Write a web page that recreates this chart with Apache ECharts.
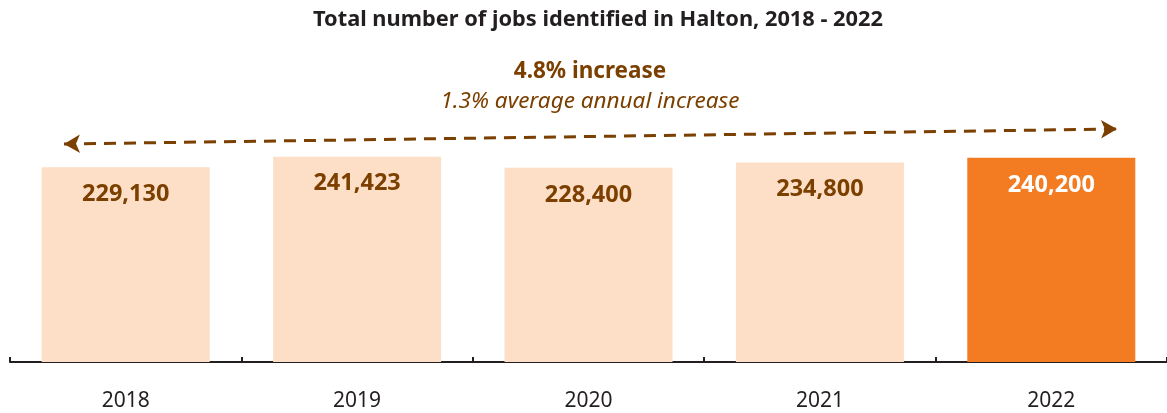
<!DOCTYPE html>
<html>
<head>
<meta charset="utf-8">
<style>
  html, body { margin: 0; padding: 0; background: #ffffff; }
  #chart { width: 1167px; height: 413px; }
</style>
<script src="https://cdn.jsdelivr.net/npm/echarts@6/dist/echarts.min.js"></script>
</head>
<body>
<div id="chart"></div>
<script>
// Jobs in Halton by year
const years = ['2018', '2019', '2020', '2021', '2022'];
const jobs = [229130, 241423, 228400, 234800, 240200];
const highlightYear = '2022';

const chartTitle = 'Total number of jobs identified in Halton, 2018 - 2022';
const growthTotal = '4.8% increase';
const growthAnnual = '1.3% average annual increase';

const FONT = '"Noto Sans", "Open Sans", sans-serif';
const BROWN = '#7b3f00';
const LIGHT = '#fcdfc6';
const ORANGE = '#f37b22';

const chart = echarts.init(document.getElementById('chart'), null, { renderer: 'canvas' });

const barData = years.map((y, i) => ({
  value: jobs[i],
  itemStyle: { color: y === highlightYear ? ORANGE : LIGHT },
  label: { color: y === highlightYear ? '#ffffff' : BROWN }
}));

// heading lines, centred text
function headingText(text, x, y, style) {
  return {
    type: 'text', x: x, y: y, silent: true,
    style: Object.assign({ text: text, align: 'center', verticalAlign: 'middle', fontFamily: FONT }, style)
  };
}

chart.setOption({
  animation: false,
  backgroundColor: '#ffffff',
  graphic: [
    headingText(chartTitle, 598, 20, { fontWeight: 'bold', fontSize: 21.8, fill: '#231f20' }),
    headingText(growthTotal, 590, 72, { fontWeight: 'bold', fontSize: 22.5, fill: BROWN }),
    headingText(growthAnnual, 590, 102, { fontStyle: 'italic', fontSize: 22.5, fill: BROWN })
  ],
  grid: { left: 10, width: 1160, top: 107, bottom: 51, containLabel: false },
  xAxis: {
    type: 'category',
    data: years,
    axisLine: { lineStyle: { color: '#231f20', width: 2 } },
    axisTick: { show: true, inside: true, length: 5, lineStyle: { color: '#231f20', width: 2 } },
    axisLabel: { fontFamily: FONT, fontSize: 21, color: '#231f20', margin: 29 }
  },
  yAxis: {
    type: 'value', min: 0, max: 300000, show: false, splitLine: { show: false }
  },
  series: [{
    type: 'bar',
    data: barData,
    barWidth: 168,
    label: {
      show: true,
      position: 'insideTop',
      distance: 15,
      fontFamily: FONT,
      fontWeight: 'bold',
      fontSize: 23.5,
      formatter: p => p.value.toLocaleString('en-US')
    },
    markLine: {
      silent: true,
      symbol: ['arrow', 'arrow'],
      symbolSize: [14, 16],
      label: { show: false },
      lineStyle: { color: BROWN, width: 3, type: [12, 8] },
      data: [[{ x: 64, y: 144 }, { x: 1117, y: 129 }]]
    }
  }]
});
</script>
</body>
</html>
